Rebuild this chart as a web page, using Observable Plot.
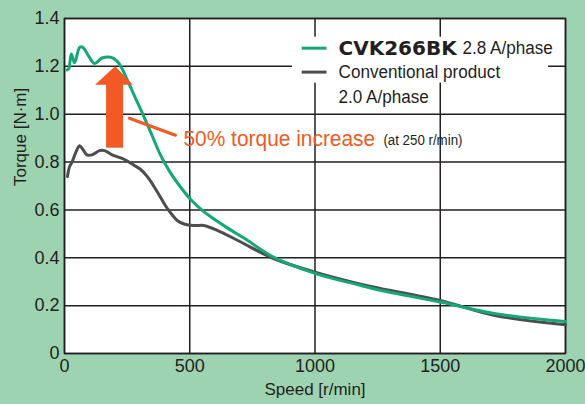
<!DOCTYPE html>
<html>
<head>
<meta charset="utf-8">
<script src="https://cdn.jsdelivr.net/npm/d3@7"></script>
<script src="https://cdn.jsdelivr.net/npm/@observablehq/plot@0.6"></script>
<style>
  html, body { margin: 0; padding: 0; background: #9dd3b0; }
  #chart svg { display: block; }
</style>
</head>
<body>
<div id="chart"></div>
<script>
// Series: CVK266BK 2.8 A/phase
const speedNew  = [10, 17, 27, 40, 61, 75, 95, 120, 150, 185, 210, 230, 250, 280, 317, 350, 383, 420, 460, 500, 550, 600, 650, 730, 830, 1000, 1180, 1260, 1500, 1710, 2000];
const torqueNew = [1.185, 1.19, 1.252, 1.215, 1.28, 1.278, 1.245, 1.212, 1.235, 1.238, 1.222, 1.19, 1.145, 1.075, 0.99, 0.91, 0.83, 0.76, 0.70, 0.648, 0.598, 0.56, 0.525, 0.473, 0.405, 0.335, 0.285, 0.264, 0.215, 0.168, 0.134];
// Series: Conventional product 2.0 A/phase
const speedOld  = [12, 20, 30, 45, 60, 72, 90, 110, 140, 160, 190, 230, 277, 303, 330, 356, 385, 410, 450, 480, 520, 556, 610, 700, 834, 1000, 1182, 1261, 1500, 1713, 2000];
const torqueOld = [0.74, 0.78, 0.80, 0.84, 0.868, 0.855, 0.83, 0.83, 0.848, 0.848, 0.83, 0.815, 0.787, 0.77, 0.74, 0.70, 0.65, 0.607, 0.556, 0.54, 0.535, 0.535, 0.515, 0.468, 0.397, 0.34, 0.29, 0.272, 0.222, 0.16, 0.12];

const xTicks = [0, 500, 1000, 1500, 2000];
const yTicks = [0, 0.2, 0.4, 0.6, 0.8, 1.0, 1.2, 1.4];
const xLabel = "Speed [r/min]";
const yLabel = "Torque [N·m]";

const seriesNames = ["CVK266BK", "Conventional product"];
const seriesSub = ["2.8 A/phase", "2.0 A/phase"];
const seriesColors = ["#12a878", "#4d4d4f"];

const annText = "50% torque increase";
const annSub = "(at 250 r/min)";
const annColor = "#f15a24";

// annotation anchors (data units)
const legendBox = [{x1: 910, x2: 1932, y1: 1.13, y2: 1.322}];
const legendLineX = [949, 1048];
const legendY = [1.276, 1.176, 1.073];
const legendTextX = [1094, 1589];
const arrowShaft = [{x1: 168, x2: 236, y1: 0.858, y2: 1.125}];
const arrowHead = [{x: 124, y1: 1.121, y2: 1.121}, {x: 204, y1: 1.121, y2: 1.198}, {x: 275, y1: 1.121, y2: 1.121}];
const leader = [{x: 259, y: 0.983}, {x: 443, y: 0.912}];
const annPos = [{x: 475, y: 0.895}, {x: 1273, y: 0.888}];

const dataNew = speedNew.map((s, i) => ({speed: s, torque: torqueNew[i]}));
const dataOld = speedOld.map((s, i) => ({speed: s, torque: torqueOld[i]}));

const font = "'Liberation Sans', Arial, sans-serif";

const chart = Plot.plot({
  width: 585,
  height: 404,
  marginLeft: 64,
  marginRight: 20,
  marginTop: 18,
  marginBottom: 51,
  style: {background: "#9dd3b0", fontFamily: font, fontSize: "18px", color: "#231f20"},
  x: {domain: [0, 2000]},
  y: {domain: [0, 1.4]},
  marks: [
    Plot.frame({fill: "white"}),
    Plot.gridX(xTicks, {stroke: "#231f20", strokeOpacity: 1, strokeWidth: 1.5}),
    Plot.gridY(yTicks, {stroke: "#231f20", strokeOpacity: 1, strokeWidth: 1.5}),
    Plot.rect(legendBox, {x1: "x1", x2: "x2", y1: "y1", y2: "y2", fill: "white"}),
    Plot.frame({stroke: "#231f20", strokeWidth: 1.5}),
    Plot.axisX(xTicks, {tickSize: 0, tickPadding: 6, label: null, fontSize: 18, tickFormat: d => String(d)}),
    Plot.axisY(yTicks, {tickSize: 0, tickPadding: 5, label: null, fontSize: 18, tickFormat: d => d === 0 ? "0" : d.toFixed(1)}),
    Plot.text([xLabel], {frameAnchor: "bottom", text: d => d, dy: 41, fontSize: 17}),
    Plot.text([yLabel], {frameAnchor: "left", text: d => d, rotate: -90, dx: -44, fontSize: 17}),
    Plot.line(dataOld, {x: "speed", y: "torque", stroke: seriesColors[1], strokeWidth: 3, curve: "catmull-rom"}),
    Plot.line(dataNew, {x: "speed", y: "torque", stroke: seriesColors[0], strokeWidth: 3, curve: "catmull-rom"}),
    // arrow annotation
    Plot.rect(arrowShaft, {x1: "x1", x2: "x2", y1: "y1", y2: "y2", fill: annColor}),
    Plot.areaY(arrowHead, {x: "x", y1: "y1", y2: "y2", fill: annColor}),
    Plot.line(leader, {x: "x", y: "y", stroke: annColor, strokeWidth: 3}),
    Plot.text([annText], {x: annPos[0].x, y: annPos[0].y, text: d => d, textAnchor: "start", fill: annColor, fontSize: 22}),
    Plot.text([annSub], {x: annPos[1].x, y: annPos[1].y, text: d => d, textAnchor: "start", fill: "#231f20", fontSize: 14}),
    // legend
    Plot.ruleY([legendY[0]], {x1: legendLineX[0], x2: legendLineX[1], stroke: seriesColors[0], strokeWidth: 3}),
    Plot.ruleY([legendY[1]], {x1: legendLineX[0], x2: legendLineX[1], stroke: seriesColors[1], strokeWidth: 3}),
    Plot.text([seriesNames[0]], {x: legendTextX[0], y: legendY[0], text: d => d, textAnchor: "start", fontFamily: "'DejaVu Sans', sans-serif", fontWeight: "bold", fontSize: 20, fill: "#231f20"}),
    Plot.text([seriesSub[0]], {x: legendTextX[1], y: legendY[0], text: d => d, textAnchor: "start", fontSize: 18, fill: "#231f20"}),
    Plot.text([seriesNames[1]], {x: legendTextX[0], y: legendY[1], text: d => d, textAnchor: "start", fontSize: 18, fill: "#231f20"}),
    Plot.text([seriesSub[1]], {x: legendTextX[0], y: legendY[2], text: d => d, textAnchor: "start", fontSize: 18, fill: "#231f20"})
  ]
});
document.getElementById("chart").appendChild(chart);

// slightly condense the annotation / legend texts like the original's narrow face
const condense = new Set([annText, annSub, seriesNames[1], seriesSub[0], seriesSub[1]]);
d3.select(chart).selectAll("text").each(function() {
  if (condense.has(this.textContent)) {
    const w = this.getComputedTextLength();
    this.setAttribute("textLength", (w * 0.95).toFixed(1));
    this.setAttribute("lengthAdjust", "spacingAndGlyphs");
  }
});
</script>
</body>
</html>
